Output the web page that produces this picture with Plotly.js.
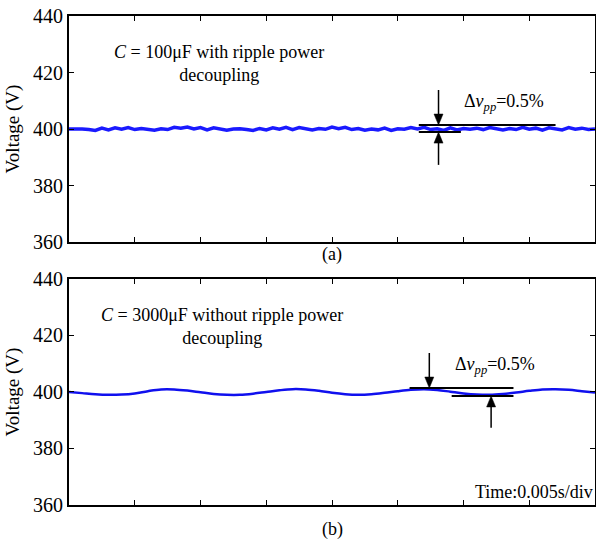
<!DOCTYPE html>
<html>
<head>
<meta charset="utf-8">
<script src="https://cdn.plot.ly/plotly-3.0.1.min.js"></script>
<style>html,body{margin:0;padding:0;background:#fff;}#chart{width:596px;height:540px;}</style>
</head>
<body>
<div id="chart"></div>
<script>
// Time step of the sampled readings (s)
var stepTop = 0.0005;
var stepBottom = 0.001;
// (a) C = 100uF with ripple power decoupling: voltage readings (V)
var voltageA = [400.0,400.1,400.0,399.8,399.5,400.3,399.7,400.4,399.9,400.5,
  399.8,400.2,399.9,399.6,400.1,399.8,400.6,400.3,400.7,400.0,
  400.5,399.7,400.4,400.0,399.6,400.0,400.1,399.8,399.5,400.2,
  399.7,400.4,399.9,400.6,399.8,400.5,400.0,399.7,400.2,399.9,
  400.7,400.1,400.6,399.8,400.2,399.6,400.0,399.7,400.3,399.5,
  400.1,399.9,400.5,400.0,400.6,399.8,400.1,399.5,400.4,399.7,
  400.2,399.9,400.3,399.8,400.5,400.1,399.7,400.2,399.8,400.6,
  399.9,400.3,399.6,400.4,400.0,399.7,400.5,399.9,400.3,399.8,400.0];
// (b) C = 3000uF without ripple power decoupling: voltage readings (V)
var voltageB = [400.0,399.6,399.2,399.0,399.1,399.5,400.3,400.9,400.9,400.5,
  399.9,399.3,399.0,399.0,399.4,400.0,400.6,401.0,400.9,400.4,
  399.7,399.2,399.0,399.2,399.7,400.3,400.8,401.0,400.7,400.1,
  399.5,399.1,399.0,399.3,399.8,400.4,400.9,401.0,400.8,400.3,399.8];
var yTicks = [360, 380, 400, 420, 440];
var xTicks = [0, 0.005, 0.01, 0.015, 0.02, 0.025, 0.03, 0.035, 0.04];

var tA = voltageA.map(function(_, i){ return i * stepTop; });
var tB = voltageB.map(function(_, i){ return i * stepBottom; });

var FONT = '"Liberation Serif", serif';
var traces = [
  {x: tA, y: voltageA, xaxis: 'x', yaxis: 'y', mode: 'lines', type: 'scatter',
   line: {color: '#1a1aff', width: 3.5, shape: 'linear'}, hoverinfo: 'skip'},
  {x: tB, y: voltageB, xaxis: 'x2', yaxis: 'y2', mode: 'lines', type: 'scatter',
   line: {color: '#1010ee', width: 2.5, shape: 'spline', smoothing: 1}, hoverinfo: 'skip'}
];

function xax(anchor){
  return {range: [0, 0.04], tickvals: xTicks, showticklabels: false, ticks: 'inside',
    ticklen: 5, tickwidth: 1, tickcolor: '#000', showline: true, linecolor: '#000', linewidth: 2,
    mirror: 'ticks', showgrid: false, zeroline: false, anchor: anchor, fixedrange: true};
}
function yax(domain, anchor){
  return {range: [360, 440], tickvals: yTicks, ticks: 'inside', ticklen: 5, tickwidth: 1,
    tickcolor: '#000', showline: true, linecolor: '#000', linewidth: 2, mirror: 'ticks',
    showgrid: false, zeroline: false, domain: domain, anchor: anchor,
    tickfont: {family: FONT, size: 20, color: '#000'},
    title: {text: 'Voltage (V)', font: {family: FONT, size: 19, color: '#000'}, standoff: 8},
    fixedrange: true};
}

function hline(xr, yr, x0, x1, y){
  return {type: 'line', xref: xr, yref: yr, x0: x0, x1: x1, y0: y, y1: y,
    line: {color: '#000', width: 2}};
}
function vline(xr, yr, x, y0, y1){
  return {type: 'line', xref: xr, yref: yr, x0: x, x1: x, y0: y0, y1: y1,
    line: {color: '#000', width: 1.5}};
}
// arrow head (pixel sized) with tip at (x, y); dir = 1 pointing down, -1 pointing up
function head(xr, yr, x, y, dir){
  var h = 11 * dir;
  return {type: 'path', xref: xr, yref: yr, xsizemode: 'pixel', ysizemode: 'pixel',
    xanchor: x, yanchor: y, path: 'M0,0 L-4.5,' + h + ' L4.5,' + h + ' Z',
    fillcolor: '#000', line: {color: '#000', width: 0.5}};
}
var txtFont = {family: FONT, size: 18, color: '#000'};

var layout = {
  width: 596, height: 540,
  margin: {l: 69, r: 1, t: 16, b: 35},
  paper_bgcolor: '#fff', plot_bgcolor: '#fff',
  showlegend: false,
  xaxis: xax('y'),
  xaxis2: xax('y2'),
  yaxis: yax([0.5378, 1], 'x'),
  yaxis2: yax([0, 0.4622], 'x2'),
  shapes: [
    hline('x', 'y', 0.0266, 0.0370, 401.4),
    hline('x', 'y', 0.0266, 0.0298, 398.9),
    hline('x2', 'y2', 0.0259, 0.0338, 401.4),
    hline('x2', 'y2', 0.0291, 0.0338, 398.6),
    vline('x', 'y', 0.0281, 413.8, 403.5),
    head('x', 'y', 0.0281, 401.4, 1),
    vline('x', 'y', 0.0281, 387.3, 397),
    head('x', 'y', 0.0281, 398.9, -1),
    vline('x2', 'y2', 0.0274, 413.8, 403.5),
    head('x2', 'y2', 0.0274, 401.4, 1),
    vline('x2', 'y2', 0.0321, 387.3, 396.6),
    head('x2', 'y2', 0.0321, 398.6, -1)
  ],
  annotations: [
    {xref: 'x', yref: 'y', x: 0.0114, y: 423.2, text: '<i>C</i> = 100μF with ripple power<br>decoupling',
     showarrow: false, font: txtFont, align: 'center', xanchor: 'center', yanchor: 'middle'},
    {xref: 'x', yref: 'y', x: 0.0299, y: 409.5, text: 'Δ<i>v<sub>pp</sub></i>=0.5%',
     showarrow: false, font: txtFont, xanchor: 'left', yanchor: 'middle'},
    {xref: 'x2', yref: 'y2', x: 0.0116, y: 423.2, text: '<i>C</i> = 3000μF without ripple power<br>decoupling',
     showarrow: false, font: txtFont, align: 'center', xanchor: 'center', yanchor: 'middle'},
    {xref: 'x2', yref: 'y2', x: 0.0292, y: 409.5, text: 'Δ<i>v<sub>pp</sub></i>=0.5%',
     showarrow: false, font: txtFont, xanchor: 'left', yanchor: 'middle'},
    {xref: 'paper', yref: 'y2', x: 1, y: 364.5, text: 'Time:0.005s/div',
     showarrow: false, font: txtFont, xanchor: 'right', yanchor: 'middle'},
    {xref: 'x', yref: 'paper', x: 0.0200, y: 0.4622, yshift: 12, text: '(a)',
     showarrow: false, font: txtFont, xanchor: 'center', yanchor: 'bottom'},
    {xref: 'x2', yref: 'paper', x: 0.0200, y: 0, yshift: -12, text: '(b)',
     showarrow: false, font: txtFont, xanchor: 'center', yanchor: 'top'}
  ]
};
Plotly.newPlot('chart', traces, layout, {staticPlot: true, displayModeBar: false});
</script>
</body>
</html>
